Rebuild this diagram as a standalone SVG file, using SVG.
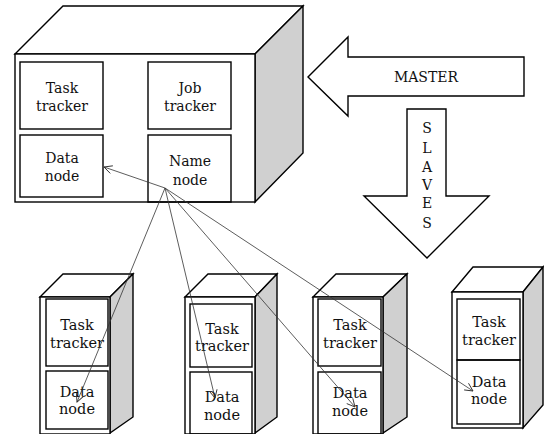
<svg xmlns="http://www.w3.org/2000/svg" width="544" height="434" viewBox="0 0 544 434">
<defs>
<style>
.o{fill:#fff;stroke:#000;stroke-width:1.4}
.g{fill:#d0d0d0;stroke:#000;stroke-width:1.4}
.b{fill:none;stroke:#000;stroke-width:1.4}
.t{font-family:"DejaVu Serif","Liberation Serif",serif;font-size:14px;fill:#111;text-anchor:middle}
.ts{font-family:"DejaVu Serif","Liberation Serif",serif;font-size:14.5px;fill:#111;text-anchor:middle}
.c{fill:none;stroke:#333;stroke-width:0.8}
</style>
<marker id="ah" markerWidth="10" markerHeight="10" refX="9" refY="5" orient="auto" markerUnits="userSpaceOnUse">
<path d="M1,1 L9,5 L1,9" fill="none" stroke="#333" stroke-width="0.9"/>
</marker>
</defs>

<g id="master">
<polygon class="o" points="15,54 63,6 303,6 255,54"/>
<polygon class="g" points="255,54 303,6 303,153 255,202"/>
<rect class="o" x="15" y="54" width="240" height="148"/>
<rect class="b" x="20" y="62" width="83" height="67"/>
<rect class="b" x="148" y="62" width="83" height="67"/>
<rect class="b" x="20" y="135" width="83" height="62"/>
<rect class="b" x="148" y="135" width="83" height="67"/>
<text class="t" x="62" y="93">Task</text>
<text class="t" x="62" y="111">tracker</text>
<text class="t" x="190" y="93">Job</text>
<text class="t" x="190" y="111">tracker</text>
<text class="t" x="62" y="163">Data</text>
<text class="t" x="62" y="181">node</text>
<text class="t" x="190" y="166">Name</text>
<text class="t" x="190" y="185">node</text>
</g>

<g id="master-arrow">
<polygon class="o" points="308,77 348,37 348,57 524,57 524,96 348,96 348,116"/>
<text class="t" x="426" y="82">MASTER</text>
</g>

<g id="slaves-arrow">
<polygon class="o" points="407,109 446,109 446,196 489,196 427,258 364,196 407,196"/>
<text class="t" x="427" y="133">S</text>
<text class="t" x="427" y="153">L</text>
<text class="t" x="427" y="172">A</text>
<text class="t" x="427" y="190">V</text>
<text class="t" x="427" y="208">E</text>
<text class="t" x="427" y="228">S</text>
</g>

<g id="slave1">
<polygon class="o" points="40,297 63,274 133,274 110,297"/>
<polygon class="g" points="110,297 133,274 133,417 110,433"/>
<rect class="o" x="40" y="297" width="70" height="137"/>
<rect class="b" x="46" y="299" width="62" height="67"/>
<rect class="b" x="46" y="371" width="62" height="58"/>
<text class="ts" x="77" y="330">Task</text>
<text class="ts" x="77" y="348">tracker</text>
<text class="ts" x="77" y="397">Data</text>
<text class="ts" x="77" y="414">node</text>
</g>

<g id="slave2">
<polygon class="o" points="185,297 208,274 277,274 255,297"/>
<polygon class="g" points="255,297 277,274 277,417 255,433"/>
<rect class="o" x="185" y="297" width="70" height="137"/>
<rect class="b" x="190" y="304" width="62" height="63"/>
<rect class="b" x="190" y="372" width="62" height="62"/>
<text class="ts" x="222" y="334">Task</text>
<text class="ts" x="222" y="351">tracker</text>
<text class="ts" x="222" y="402">Data</text>
<text class="ts" x="222" y="420">node</text>
</g>

<g id="slave3">
<polygon class="o" points="313,297 336,274 407,274 383,297"/>
<polygon class="g" points="383,297 407,274 407,417 383,433"/>
<rect class="o" x="313" y="297" width="70" height="137"/>
<rect class="b" x="318" y="299" width="63" height="67"/>
<rect class="b" x="318" y="372" width="63" height="62"/>
<text class="ts" x="350" y="330">Task</text>
<text class="ts" x="350" y="348">tracker</text>
<text class="ts" x="350" y="398">Data</text>
<text class="ts" x="350" y="416">node</text>
</g>

<g id="slave4">
<polygon class="o" points="452,292 473,267 543,267 523,292"/>
<polygon class="g" points="523,292 543,267 543,405 523,428"/>
<rect class="o" x="452" y="292" width="71" height="136"/>
<rect class="b" x="457" y="299" width="63" height="61"/>
<rect class="b" x="457" y="360" width="63" height="64"/>
<text class="ts" x="489" y="327">Task</text>
<text class="ts" x="489" y="345">tracker</text>
<text class="ts" x="489" y="387">Data</text>
<text class="ts" x="489" y="404">node</text>
</g>

<g id="connectors">
<line class="c" x1="165" y1="188" x2="104" y2="167" marker-end="url(#ah)"/>
<line class="c" x1="165" y1="188" x2="77" y2="402" marker-end="url(#ah)"/>
<line class="c" x1="165" y1="188" x2="215" y2="398" marker-end="url(#ah)"/>
<line class="c" x1="165" y1="188" x2="355" y2="407" marker-end="url(#ah)"/>
<line class="c" x1="165" y1="188" x2="473" y2="391" marker-end="url(#ah)"/>
</g>
</svg>
